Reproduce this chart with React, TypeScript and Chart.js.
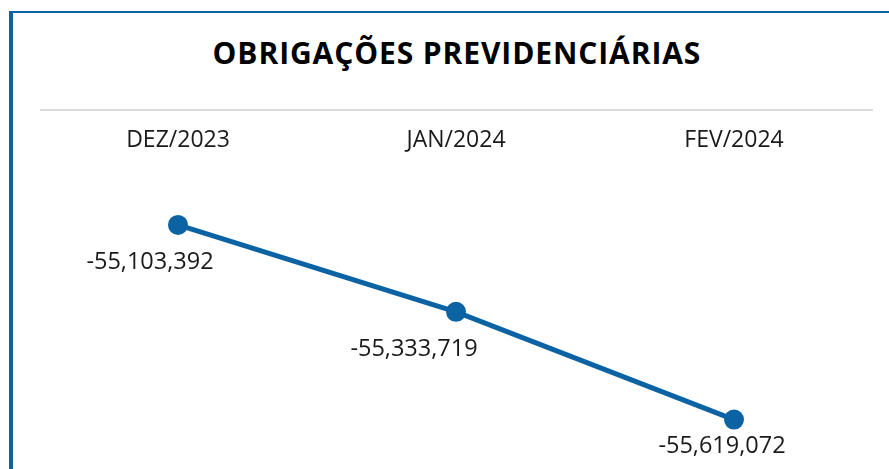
import React, { useEffect, useRef } from 'react';
import { Chart, registerables } from 'chart.js';

Chart.register(...registerables);

const chartTitle = 'OBRIGAÇÕES PREVIDENCIÁRIAS';
const categories = ['DEZ/2023', 'JAN/2024', 'FEV/2024'];
const values = [-55103392, -55333719, -55619072];

const LINE_COLOR = '#0b63a3';
const TEXT_COLOR = '#1a1a1a';
const LABEL_OFFSETS = [
  [-28, 37],
  [-42, 37],
  [-12, 27],
];

const fmt = (v: number) => new Intl.NumberFormat('en-US').format(v);

const labelPlugin = {
  id: 'pointValueLabels',
  afterDatasetsDraw(chart: any) {
    const ctx = chart.ctx;
    const meta = chart.getDatasetMeta(0);
    ctx.save();
    ctx.font = '400 23.5px "Open Sans"';
    ctx.fillStyle = TEXT_COLOR;
    ctx.textAlign = 'center';
    ctx.textBaseline = 'middle';
    meta.data.forEach((pt: any, i: number) => {
      const [dx, dy] = LABEL_OFFSETS[i] || [0, 30];
      ctx.fillText(fmt(values[i]), pt.x + dx, pt.y + dy);
    });
    ctx.restore();
  },
};

export default function App() {
  const canvasRef = useRef<HTMLCanvasElement | null>(null);

  useEffect(() => {
    if (!canvasRef.current) return;
    const chart = new Chart(canvasRef.current, {
      type: 'line',
      data: {
        labels: categories,
        datasets: [
          {
            data: values,
            borderColor: LINE_COLOR,
            backgroundColor: LINE_COLOR,
            borderWidth: 5,
            pointRadius: 10,
            pointHoverRadius: 10,
            pointBorderWidth: 0,
            pointBackgroundColor: LINE_COLOR,
            tension: 0,
            fill: false,
          },
        ],
      },
      options: {
        animation: false,
        responsive: false,
        maintainAspectRatio: false,
        layout: { padding: { left: 39, right: 16, top: 0, bottom: 0 } },
        plugins: {
          legend: { display: false },
          tooltip: { enabled: false },
          title: { display: false },
        },
        scales: {
          x: {
            position: 'top',
            offset: true,
            grid: { display: false, drawTicks: false },
            border: { display: false },
            ticks: {
              padding: 6,
              color: TEXT_COLOR,
              font: { family: '"Open Sans"', size: 23 },
              maxRotation: 0,
            },
            afterFit(scale: any) {
              scale.height = 48;
            },
          },
          y: {
            display: false,
            min: -55723530,
            max: -54931500,
          },
        },
      },
      plugins: [labelPlugin],
    });
    return () => chart.destroy();
  }, []);

  return (
    <div
      style={{
        position: 'fixed',
        left: 0,
        top: 0,
        width: 889,
        height: 469,
        background: '#ffffff',
        overflow: 'hidden',
      }}
    >
      <div
        style={{
          position: 'absolute',
          left: 9,
          top: 11,
          width: 900,
          height: 480,
          borderLeft: `4px solid ${LINE_COLOR}`,
          borderTop: `2px solid ${LINE_COLOR}`,
          boxSizing: 'border-box',
        }}
      />
      <div
        style={{
          position: 'absolute',
          left: 40,
          width: 833,
          top: 38,
          textAlign: 'center',
          fontFamily: '"Open Sans", sans-serif',
          fontWeight: 700,
          fontSize: 30,
          lineHeight: '30px',
          letterSpacing: '0.9px',
          paddingLeft: '0.9px',
          boxSizing: 'border-box',
          color: '#000000',
          whiteSpace: 'nowrap',
        }}
      >
        {chartTitle}
      </div>
      <div
        style={{
          position: 'absolute',
          left: 40,
          top: 109,
          width: 833,
          height: 2,
          background: '#d9d9d9',
        }}
      />
      <canvas
        ref={canvasRef}
        width={889}
        height={357}
        style={{ position: 'absolute', left: 0, top: 112, width: 889, height: 357 }}
      />
    </div>
  );
}
